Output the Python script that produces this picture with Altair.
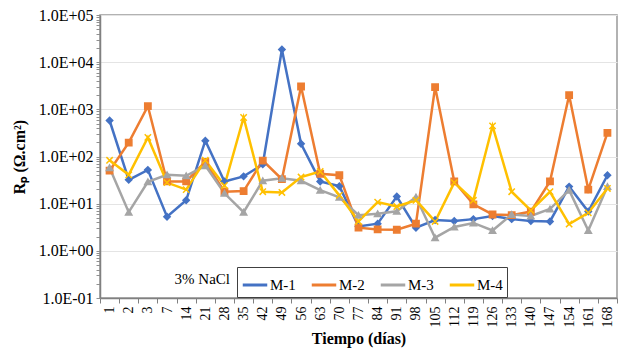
import altair as alt
import pandas as pd

days = [1, 2, 3, 7, 14, 21, 28, 35, 42, 49, 56, 63, 70, 77, 84, 91, 98,
        105, 112, 119, 126, 133, 140, 147, 154, 161, 168]
series_names = ["M-1", "M-2", "M-3", "M-4"]
m1 = [580, 32, 52, 5.3, 11.8, 216, 29.6, 37.9, 68, 18500, 186, 29.6, 23.5, 3.3,
      3.76, 14.2, 3.1, 4.5, 4.3, 4.7, 5.5, 4.7, 4.3, 4.2, 23, 6.8, 40]
m2 = [50, 197, 1166, 29.6, 29.6, 77, 17.9, 18.5, 82, 33, 3050, 43, 40, 3.1,
      2.85, 2.8, 3.76, 2960, 29.6, 9.7, 5.9, 5.7, 6.8, 29.6, 1995, 19.9, 318]
m3 = [58, 6.6, 29, 41, 39, 64, 16.6, 6.6, 30.6, 34.5, 30.6, 19.3, 13.6, 5.7,
      6.1, 6.9, 13.8, 1.9, 3.2, 3.9, 2.7, 5.9, 5.5, 7.7, 19.3, 2.7, 23]
m4 = [83, 41, 253, 28, 19.9, 83, 24.3, 671, 17.9, 17.3, 36.7, 48, 15, 4.2,
      10.8, 8.7, 11.8, 4.2, 28, 11.8, 445, 17.9, 7.2, 17.9, 3.7, 6.4, 21]
colors = ["#4472C4", "#ED7D31", "#A5A5A5", "#FFC000"]
shapes = ["diamond", "square", "triangle-up", "M-1,-1L1,1M-1,1L1,-1"]
y_ticks = [m * 10 ** e for e in range(-1, 5) for m in range(1, 10)] + [100000]
note_text = ["3% NaCl"]

rows = []
for name, vals in zip(series_names, [m1, m2, m3, m4]):
    for i, (d, v) in enumerate(zip(days, vals)):
        rows.append({"day": str(d), "order": i, "series": name, "Rp": v})
df = pd.DataFrame(rows)
note_df = pd.DataFrame({"note": note_text})

FONT = "Liberation Serif"
dec = "abs(log(datum.value)/LN10 - round(log(datum.value)/LN10)) < 0.001"
ex = "round(log(datum.value)/LN10)"
label_expr = f"{dec} ? '1.0E' + ({ex} < 0 ? '-' : '+') + '0' + abs({ex}) : ''"

x_enc = alt.X("day:N", sort=[str(d) for d in days], bandPosition=0.5,
              scale=alt.Scale(type="band", paddingInner=0, paddingOuter=0),
              axis=alt.Axis(title="Tiempo (días)", labelAngle=-90, labelFontSize=14,
                            labelFont=FONT, labelColor="#000000", tickBand="extent",
                            tickSize=5, tickColor="#808080", domainColor="#808080",
                            domainWidth=1.5, titleFont=FONT, titleFontSize=16,
                            titleFontWeight="bold", titleColor="#000000",
                            titlePadding=3, labelPadding=3, grid=False))
y_enc = alt.Y("Rp:Q",
              scale=alt.Scale(type="log", domain=[0.1, 100000], nice=False),
              axis=alt.Axis(title="Rₚ (Ω.cm²)", values=y_ticks, labelExpr=label_expr,
                            labelOverlap=False, labelFontSize=16, labelFont=FONT,
                            labelColor="#000000", tickSize=4, tickColor="#909090",
                            domainColor="#808080", domainWidth=1.5,
                            gridColor="#e4e4e4",
                            gridOpacity={"condition": {"test": dec, "value": 1}, "value": 0},
                            titleFont=FONT, titleFontSize=16, titleFontWeight="bold",
                            titleColor="#000000", titlePadding=11, labelPadding=3))

color_scale = alt.Scale(domain=series_names, range=colors)

lines = alt.Chart(df).mark_line(strokeWidth=2.5).encode(
    x=x_enc, y=y_enc,
    color=alt.Color("series:N", scale=color_scale,
                    legend=alt.Legend(title=None, orient="none", legendX=137, legendY=252,
                                      direction="horizontal", columns=4,
                                      symbolType="stroke", symbolSize=600,
                                      symbolStrokeWidth=3, labelFont=FONT,
                                      labelFontSize=15, labelColor="#000000",
                                      strokeColor="#404040", fillColor="#ffffff",
                                      padding=4, columnPadding=9, labelOffset=1)),
    order="order:Q",
)

point_layers = []
for name, col, shp in zip(series_names, colors, shapes):
    point_layers.append(
        alt.Chart(df).transform_filter(alt.datum.series == name)
        .mark_point(filled=True, size=40, strokeWidth=1.5, opacity=1,
                    shape=shp, fill=col, stroke=col)
        .encode(x=x_enc, y=y_enc)
    )

label = alt.Chart(note_df).mark_text(align="right", baseline="middle", font=FONT,
                                     fontSize=15, color="#000000").encode(
    x=alt.value(130), y=alt.value(264), text="note:N")

chart = alt.layer(lines, *point_layers, label).properties(
    width=517, height=283,
    autosize=alt.AutoSizeParams(type="none"),
    padding={"left": 92, "top": 7, "right": 2, "bottom": 55},
).configure_view(stroke="#999999", strokeWidth=1.5)

chart.save("out.html", embed_options={"renderer": "svg", "actions": False})
